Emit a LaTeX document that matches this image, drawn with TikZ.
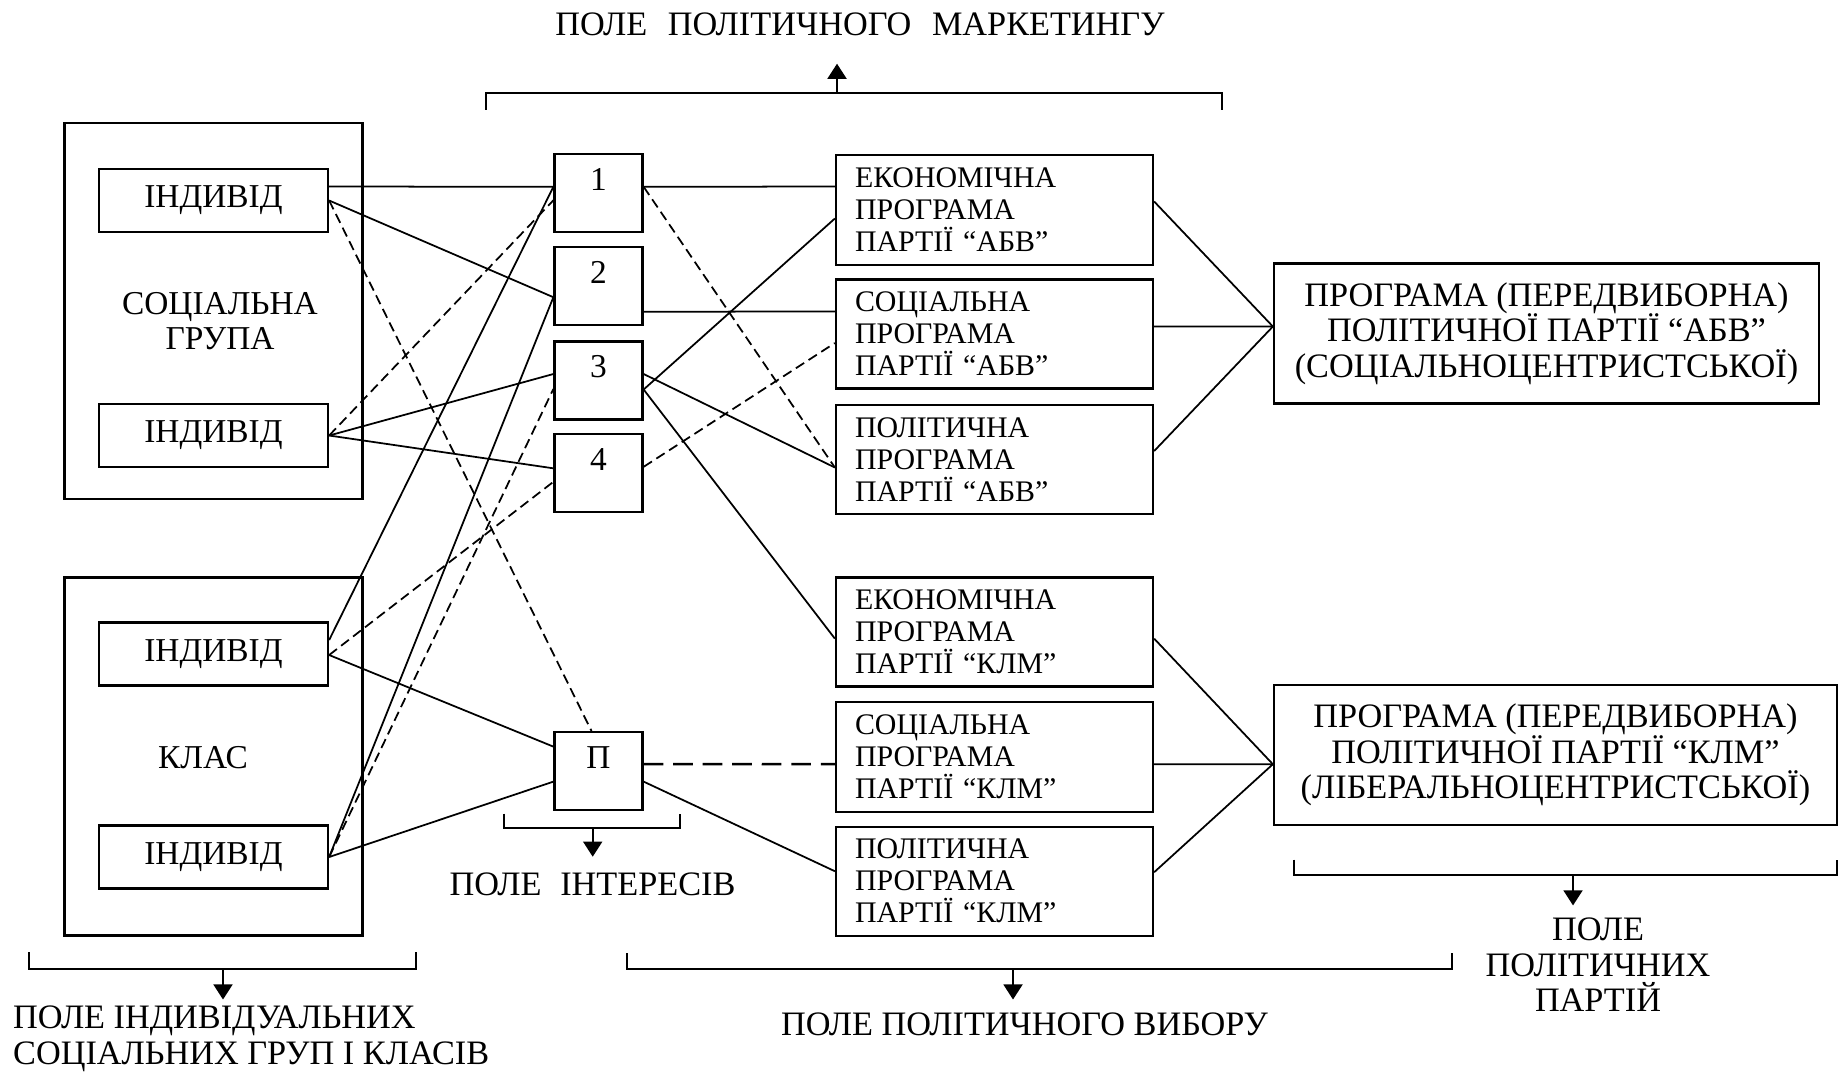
\documentclass[tikz,border=0pt]{standalone}
\usepackage{fontspec}
\setmainfont{Liberation Serif}
\usetikzlibrary{arrows.meta}

\newcommand\bigtxt{\fontsize{9.5}{9.8}\selectfont}
\newcommand\captxt{\fontsize{9.75}{10.1}\selectfont}
\newcommand\smalltxt{\fontsize{8.5}{9.1}\selectfont}

\tikzset{
  field/.style={draw,line width=0.65pt,minimum width=2.98cm,inner sep=0pt},
  indiv/.style={draw,line width=0.65pt,minimum width=2.29cm,minimum height=0.63cm,inner sep=0pt,font=\bigtxt},
  interest/.style={draw,line width=0.65pt,minimum width=0.88cm,minimum height=0.78cm,inner sep=0pt,text height=0.25cm,text depth=0.31cm,font=\bigtxt},
  prog/.style={draw,line width=0.65pt,minimum width=3.17cm,minimum height=1.09cm,text width=2.79cm,inner xsep=0.19cm,align=left,font=\smalltxt},
  party/.style={draw,line width=0.65pt,minimum height=1.40cm,align=center,font=\captxt},
  caption/.style={font=\captxt,align=center},
  link/.style={line width=0.5pt},
  weak/.style={line width=0.5pt,dash pattern=on 2.8pt off 1.5pt},
  strongdash/.style={line width=0.7pt,dash pattern=on 5.6pt off 2.8pt},
  brace/.style={line width=0.55pt},
  toarrow/.style={line width=0.55pt,-{Triangle[width=5.4pt,length=4.3pt]}},
}

\begin{document}
\begin{tikzpicture}
\useasboundingbox (0,0) rectangle (18.43,-10.73);

% social group and class
\node[field,minimum height=3.76cm] (sg) at (2.136,-3.11) {};
\node[caption,font=\bigtxt] (sgt) at (2.20,-3.21) {СОЦІАЛЬНА\\ГРУПА};
\node[indiv] (ind1) at (2.135,-2.005) {ІНДИВІД};
\node[indiv] (ind2) at (2.135,-4.355) {ІНДИВІД};

\node[field,minimum height=3.58cm] (cl) at (2.136,-7.564) {};
\node[caption,font=\bigtxt] (clt) at (2.03,-7.575) {КЛАС};
\node[indiv] (ind3) at (2.135,-6.54) {ІНДИВІД};
\node[indiv] (ind4) at (2.135,-8.57) {ІНДИВІД};

% interests
\node[interest] (b1) at (5.985,-1.933) {1};
\node[interest] (b2) at (5.985,-2.862) {2};
\node[interest] (b3) at (5.985,-3.805) {3};
\node[interest] (b4) at (5.985,-4.733) {4};
\node[interest] (bp) at (5.985,-7.711) {П};

% programmes
\node[prog,minimum height=1.10cm] (ae) at (9.945,-2.10) {ЕКОНОМІЧНА\\ПРОГРАМА\\ПАРТІЇ “АБВ”};
\node[prog] (as) at (9.945,-3.34) {СОЦІАЛЬНА\\ПРОГРАМА\\ПАРТІЇ “АБВ”};
\node[prog] (ap) at (9.945,-4.595) {ПОЛІТИЧНА\\ПРОГРАМА\\ПАРТІЇ “АБВ”};
\node[prog] (ke) at (9.945,-6.321) {ЕКОНОМІЧНА\\ПРОГРАМА\\ПАРТІЇ “КЛМ”};
\node[prog,minimum height=1.10cm] (ks) at (9.945,-7.567) {СОЦІАЛЬНА\\ПРОГРАМА\\ПАРТІЇ “КЛМ”};
\node[prog] (kp) at (9.945,-8.812) {ПОЛІТИЧНА\\ПРОГРАМА\\ПАРТІЇ “КЛМ”};

\node[party,minimum width=5.45cm] (pa) at (15.465,-3.335) {ПРОГРАМА (ПЕРЕДВИБОРНА)\\ПОЛІТИЧНОЇ ПАРТІЇ “АБВ”\\(СОЦІАЛЬНОЦЕНТРИСТСЬКОЇ)};
\node[party,minimum width=5.63cm] (pk) at (15.555,-7.552) {ПРОГРАМА (ПЕРЕДВИБОРНА)\\ПОЛІТИЧНОЇ ПАРТІЇ “КЛМ”\\(ЛІБЕРАЛЬНОЦЕНТРИСТСЬКОЇ)};

% individuals -> interests
\draw[link] ([yshift=1.4mm]ind1.east) -- ([yshift=0.65mm]b1.west);
\draw[link] (ind1.east) -- ([yshift=-1.1mm]b2.west);
\draw[weak] (ind1.east) -- ([xshift=-0.7mm]bp.north);
\draw[weak] (ind2.east) -- ([yshift=-0.7mm]b1.west);
\draw[link] (ind2.east) -- ([yshift=0.65mm]b3.west);
\draw[link] (ind2.east) -- ([yshift=0.5mm]b4.west);
\draw[link] ([yshift=1.4mm]ind3.east) -- ([yshift=0.65mm]b1.west);
\draw[weak] ([yshift=-0.1mm]ind3.east) -- ([yshift=-0.85mm]b4.west);
\draw[link] ([yshift=-0.1mm]ind3.east) -- ([yshift=2.45mm]bp.west);
\draw[link] (ind4.east) -- ([yshift=-1.1mm]b2.west);
\draw[weak] (ind4.east) -- ([yshift=-0.85mm]b3.west);
\draw[link] (ind4.east) -- ([yshift=-1.05mm]bp.west);

% interests -> programmes
\draw[link] ([yshift=0.65mm]b1.east) -- ([yshift=2.35mm]ae.west);
\draw[weak] ([yshift=0.65mm]b1.east) -- ([yshift=-0.8mm]ap.west);
\draw[link] ([yshift=-2.55mm]b2.east) -- ([yshift=2.25mm]as.west);
\draw[link] ([yshift=0.65mm]b3.east) -- ([yshift=-0.8mm]ap.west);
\draw[link] ([yshift=-0.9mm]b3.east) -- ([yshift=-0.85mm]ae.west);
\draw[link] ([yshift=-0.9mm]b3.east) -- ([yshift=-0.65mm]ke.west);
\draw[weak] ([yshift=0.65mm]b4.east) -- ([yshift=-0.9mm]as.west);
\draw[strongdash] ([yshift=0.7mm]bp.east) -- ([yshift=-0.75mm]ks.west);
\draw[link] ([yshift=-1.05mm]bp.east) -- ([yshift=1mm]kp.west);

% programmes -> party programmes
\draw[link] ([yshift=0.85mm]ae.east) -- ([yshift=0.7mm]pa.west);
\draw[link] ([yshift=0.75mm]as.east) -- ([yshift=0.7mm]pa.west);
\draw[link] ([yshift=0.85mm]ap.east) -- ([yshift=0.7mm]pa.west);
\draw[link] ([yshift=-0.65mm]ke.east) -- ([yshift=-0.9mm]pk.west);
\draw[link] ([yshift=-0.75mm]ks.east) -- ([yshift=-0.9mm]pk.west);
\draw[link] ([yshift=0.9mm]kp.east) -- ([yshift=-0.9mm]pk.west);

% fields
\node[caption] (mkt) at (8.60,-0.24) {ПОЛЕ\hspace{0.6em}ПОЛІТИЧНОГО\hspace{0.6em}МАРКЕТИНГУ};
\draw[brace] (4.86,-1.095) -- (4.86,-0.93) -- (12.22,-0.93) -- (12.22,-1.095);
\coordinate (mktb) at (8.37,-0.93);
\coordinate (mkta) at (8.37,-0.637);
\draw[toarrow] (mktb) -- (mkta);

\node[caption] (intt) at (5.925,-8.84) {ПОЛЕ\hspace{0.55em}ІНТЕРЕСІВ};
\draw[brace] (5.04,-8.136) -- (5.04,-8.28) -- (6.80,-8.28) -- (6.80,-8.136);
\coordinate (intb) at (5.927,-8.28);
\coordinate (inta) at (5.927,-8.567);
\draw[toarrow] (intb) -- (inta);

\node[caption,align=left,anchor=west,inner xsep=0pt] (indt) at (0.125,-10.39) {ПОЛЕ ІНДИВІДУАЛЬНИХ\\СОЦІАЛЬНИХ ГРУП І КЛАСІВ};
\draw[brace] (0.29,-9.52) -- (0.29,-9.693) -- (4.16,-9.693) -- (4.16,-9.52);
\coordinate (indb) at (2.23,-9.693);
\coordinate (inda) at (2.23,-9.995);
\draw[toarrow] (indb) -- (inda);

\node[caption] (chot) at (10.245,-10.244) {ПОЛЕ ПОЛІТИЧНОГО ВИБОРУ};
\draw[brace] (6.27,-9.53) -- (6.27,-9.693) -- (14.52,-9.693) -- (14.52,-9.53);
\coordinate (chob) at (10.13,-9.693);
\coordinate (choa) at (10.13,-9.995);
\draw[toarrow] (chob) -- (choa);

\node[caption] (part) at (15.98,-9.648) {ПОЛЕ\\ПОЛІТИЧНИХ\\ПАРТІЙ};
\draw[brace] (12.94,-8.595) -- (12.94,-8.748) -- (18.37,-8.748) -- (18.37,-8.595);
\coordinate (parb) at (15.73,-8.748);
\coordinate (para) at (15.73,-9.054);
\draw[toarrow] (parb) -- (para);
\end{tikzpicture}
\end{document}
